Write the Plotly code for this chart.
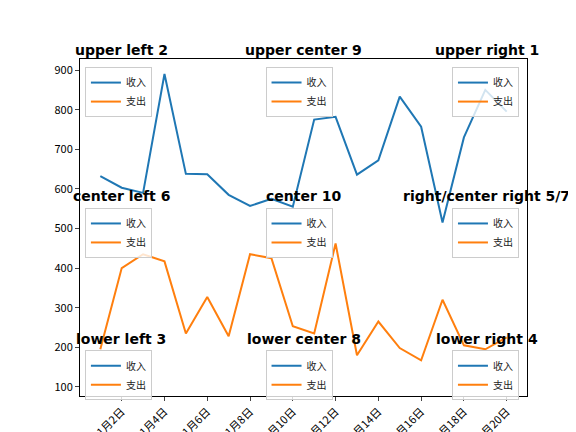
import plotly.graph_objects as go

days = [f"1月{i}日" for i in range(1, 21)]
income = [632, 603, 590, 890, 638, 637, 585, 557, 575, 555, 775, 782, 636, 672, 833, 757, 515, 730, 850, 795]
expense = [195, 400, 435, 417, 235, 327, 228, 435, 425, 253, 235, 462, 180, 265, 198, 167, 320, 205, 195, 225]
tick_labels = days[1::2]

BLUE, ORANGE = "#1f77b4", "#ff7f0e"
xs = list(range(len(days)))
fig = go.Figure()
fig.add_trace(go.Scatter(x=xs, y=income, mode="lines", line=dict(color=BLUE, width=2), name="收入", legend="legend"))
fig.add_trace(go.Scatter(x=xs, y=expense, mode="lines", line=dict(color=ORANGE, width=2), name="支出", legend="legend"))

locs = [
    (0.011, 0.976, "left", "top"), (0.49, 0.976, "center", "top"), (0.982, 0.976, "right", "top"),
    (0.011, 0.558, "left", "top"), (0.49, 0.558, "center", "top"), (0.982, 0.558, "right", "top"),
    (0.011, 0.136, "left", "top"), (0.49, 0.136, "center", "top"), (0.982, 0.136, "right", "top"),
]
layout_leg = {}
for i, (lx, ly, xa, ya) in enumerate(locs):
    key = "legend" if i == 0 else f"legend{i+1}"
    if i > 0:
        fig.add_trace(go.Scatter(x=[None], y=[None], mode="lines", line=dict(color=BLUE, width=2), name="收入", legend=key))
        fig.add_trace(go.Scatter(x=[None], y=[None], mode="lines", line=dict(color=ORANGE, width=2), name="支出", legend=key))
    layout_leg[key] = dict(x=lx, y=ly, xanchor=xa, yanchor=ya, xref="paper", yref="paper",
                           bgcolor="rgba(255,255,255,0.8)", bordercolor="#cccccc", borderwidth=1,
                           font=dict(size=10, family="Noto Sans CJK SC", color="#222"),
                           tracegroupgap=0, itemwidth=30, entrywidthmode="pixels")
fig.update_layout(**layout_leg)

titles = [
    ("upper left 2", 0.092, 1.027), ("upper center 9", 0.5, 1.027), ("upper right 1", 0.91, 1.027),
    ("center left 6", 0.092, 0.593), ("center 10", 0.5, 0.593), ("right/center right 5/7", 0.91, 0.593),
    ("lower left 3", 0.092, 0.169), ("lower center 8", 0.5, 0.169), ("lower right 4", 0.91, 0.169),
]
for t, tx, ty in titles:
    fig.add_annotation(text=f"<b>{t}</b>", x=tx, y=ty, xref="paper", yref="paper", showarrow=False,
                       font=dict(size=14, family="DejaVu Sans", color="black"), xanchor="center", yanchor="middle")

fig.update_layout(
    width=576, height=432, margin=dict(l=72, r=57, t=51, b=44, autoexpand=False),
    plot_bgcolor="white", paper_bgcolor="white",
    font=dict(family="Noto Sans CJK SC", size=11, color="black"),
)
fig.update_xaxes(range=[-0.95, 19.95], tickmode="array", tickvals=xs[1::2], ticktext=tick_labels,
                 tickangle=-45, showgrid=False, zeroline=False, showline=True, linecolor="black", mirror=True,
                 ticks="outside", ticklen=4, automargin=False)
fig.update_yaxes(range=[77, 928], tickvals=[100, 200, 300, 400, 500, 600, 700, 800, 900], showgrid=False,
                 zeroline=False, showline=True, linecolor="black", mirror=True, ticks="outside", ticklen=4,
                 automargin=False)
fig.write_html("out.html")
